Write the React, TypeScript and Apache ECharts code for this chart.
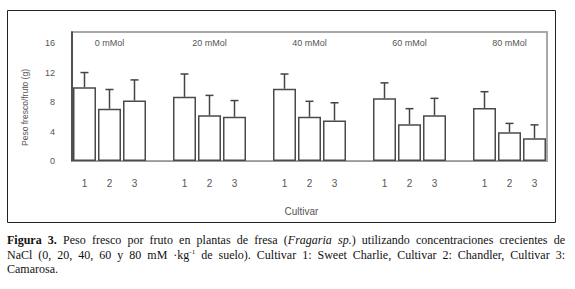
import React, { useEffect, useRef } from "react";
import * as echarts from "echarts";

const groups = ["0 mMol", "20 mMol", "40 mMol", "60 mMol", "80 mMol"];
const cultivars = ["1", "2", "3"];
const means = [
  [10.0, 7.1, 8.2],
  [8.7, 6.2, 6.0],
  [9.8, 6.0, 5.5],
  [8.5, 5.0, 6.2],
  [7.2, 3.9, 3.1],
];
const errors = [
  [2.0, 2.6, 2.8],
  [3.1, 2.7, 2.2],
  [2.0, 2.1, 2.4],
  [2.1, 2.1, 2.3],
  [2.2, 1.2, 1.8],
];
const yMin = 0;
const yMax = 17.5;
const yInterval = 4;

const textColor = "#555";
const sansFont = "Liberation Sans";

export default function App() {
  const ref = useRef<HTMLDivElement>(null);

  useEffect(() => {
    document.body.style.margin = "0";
    if (!ref.current) return;
    const chart = echarts.init(ref.current, undefined, { renderer: "svg" });

    const categories: string[] = [];
    const barData: (number | string)[] = [];
    const errData: number[][] = [];
    const labelData: number[][] = [];
    groups.forEach((g, gi) => {
      cultivars.forEach((c, ci) => {
        const idx = categories.length;
        categories.push(c);
        barData.push(means[gi][ci]);
        errData.push([idx, means[gi][ci], means[gi][ci] + errors[gi][ci]]);
        if (ci === 1) labelData.push([idx, 16, gi]);
      });
      if (gi < groups.length - 1) {
        categories.push("");
        barData.push("-");
      }
    });

    chart.setOption({
      animation: false,
      grid: {
        left: 72,
        right: 28,
        top: 32,
        bottom: 128,
        show: true,
        borderColor: "#a8a8a8",
        borderWidth: 2,
        backgroundColor: "transparent",
      },
      xAxis: {
        type: "category",
        data: categories,
        axisTick: { show: false },
        axisLine: { lineStyle: { color: "#9a9a9a", width: 1 } },
        axisLabel: {
          interval: 0,
          margin: 17,
          color: textColor,
          fontFamily: sansFont,
          fontSize: 10,
        },
        name: "Cultivar",
        nameLocation: "middle",
        nameGap: 45,
        nameTextStyle: {
          color: textColor,
          fontFamily: sansFont,
          fontSize: 10,
          padding: [0, 16, 0, 0],
        },
        splitLine: { show: false },
      },
      yAxis: {
        type: "value",
        min: yMin,
        max: yMax,
        interval: yInterval,
        axisLine: { show: true, lineStyle: { color: "#333", width: 1.5 } },
        axisTick: { show: false },
        splitLine: { show: false },
        axisLabel: {
          margin: 17,
          color: textColor,
          fontFamily: sansFont,
          fontSize: 9,
          formatter: (v: number) => (v % yInterval === 0 ? String(v) : ""),
        },
        name: "Peso fresco/fruto (g)",
        nameLocation: "middle",
        nameGap: 43,
        nameRotate: 90,
        nameTextStyle: {
          color: textColor,
          fontFamily: sansFont,
          fontSize: 8.5,
          padding: [0, 22, 0, 0],
        },
      },
      series: [
        {
          type: "bar",
          data: barData,
          barWidth: 23,
          itemStyle: { color: "#fff", borderColor: "#4a4a4a", borderWidth: 1.5 },
          silent: true,
        },
        {
          type: "custom",
          data: errData,
          silent: true,
          z: 3,
          renderItem: (params: any, api: any) => {
            const idx = api.value(0);
            const base = api.coord([idx, api.value(1)]);
            const top = api.coord([idx, api.value(2)]);
            const half = 4;
            const style = { stroke: "#444", lineWidth: 1.5 };
            return {
              type: "group",
              children: [
                { type: "line", shape: { x1: base[0], y1: base[1], x2: top[0], y2: top[1] }, style },
                { type: "line", shape: { x1: top[0] - half, y1: top[1], x2: top[0] + half, y2: top[1] }, style },
              ],
            };
          },
        },
        {
          type: "custom",
          data: labelData,
          silent: true,
          renderItem: (params: any, api: any) => {
            const p = api.coord([api.value(0), api.value(1)]);
            return {
              type: "text",
              style: {
                text: groups[api.value(2)],
                x: p[0],
                y: p[1],
                align: "center",
                verticalAlign: "middle",
                fill: textColor,
                fontFamily: sansFont,
                fontSize: 9,
              },
            };
          },
        },
      ],
      graphic: [
        {
          type: "rect",
          shape: { x: 7.5, y: 10.5, width: 548, height: 212 },
          style: { fill: "none", stroke: "#222", lineWidth: 1 },
          silent: true,
        },
      ],
    });

    return () => chart.dispose();
  }, []);

  const lineStyle: React.CSSProperties = {
    textAlign: "justify",
    textAlignLast: "justify",
    whiteSpace: "nowrap",
  };

  return (
    <div style={{ position: "relative", width: 575, height: 289, background: "#fff" }}>
      <div ref={ref} style={{ position: "absolute", left: 0, top: 0, width: 575, height: 289 }} />
      <div
        style={{
          position: "absolute",
          left: 7,
          top: 233,
          width: 558,
          fontFamily: "Liberation Serif, Times New Roman, DejaVu Serif, serif",
          fontSize: 12,
          lineHeight: "14.5px",
          color: "#111",
        }}
      >
        <div style={lineStyle}>
          <b>Figura 3.</b> Peso fresco por fruto en plantas de fresa (<i>Fragaria sp.</i>) utilizando concentraciones crecientes de
        </div>
        <div style={lineStyle}>
          NaCl (0, 20, 40, 60 y 80 mM ·kg<sup style={{ fontSize: 7, lineHeight: 0 }}>-1</sup> de suelo). Cultivar 1: Sweet Charlie, Cultivar 2: Chandler, Cultivar 3:
        </div>
        <div>Camarosa.</div>
      </div>
    </div>
  );
}
